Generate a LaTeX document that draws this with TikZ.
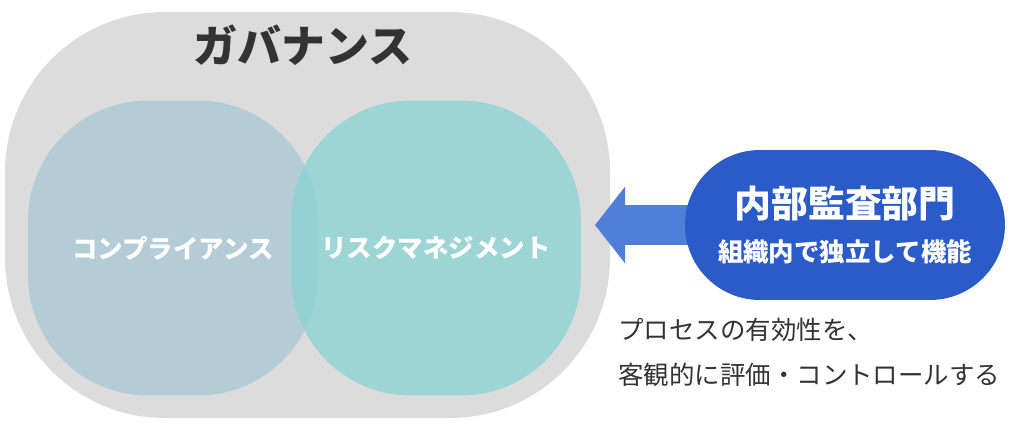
\documentclass[tikz,border=0pt]{standalone}
\usepackage{fontspec}
\setmainfont{Noto Sans CJK JP}
\usetikzlibrary{arrows.meta,positioning}
\definecolor{govgray}{HTML}{DCDCDC}
\definecolor{compblue}{HTML}{A9C9D4}
\definecolor{riskteal}{HTML}{8ED3D3}
\definecolor{arrowblue}{HTML}{4F7FD6}
\definecolor{auditblue}{HTML}{2A5BC9}
\definecolor{textgray}{HTML}{333333}
\tikzset{
  venn/.style={minimum width=5.8cm, minimum height=5.9cm, rounded corners=2.4cm, fill opacity=0.8, text opacity=1, text=white, font=\bfseries\fontsize{14.5}{17}\selectfont},
  note/.style={anchor=west, text=textgray, font=\fontsize{14.5}{17}\selectfont}
}
\begin{document}
\begin{tikzpicture}[x=0.02cm,y=-0.02cm]
\useasboundingbox (0,0) rectangle (1017,424);
\fill[govgray,rounded corners=3.2cm] (5,12) rectangle (610,418);
\node (gov) at (303,45) [text=textgray, font=\bfseries\fontsize{25}{28}\selectfont]{ガバナンス};

\node (comp) at (173,248) [venn, fill=compblue]{コンプライアンス};
\node (risk) at (436,248) [venn, fill=riskteal]{リスクマネジメント};

\coordinate (tip) at (595,225);
\draw[arrowblue, line width=0.8cm, -{Triangle[length=0.6cm,width=1.5cm]}] (720,225)--(tip);

\node (audit) at (845,225) [fill=auditblue, minimum width=6.4cm, minimum height=3cm, rounded corners=1.5cm, text=white, align=center]
  {{\bfseries\fontsize{21}{24}\selectfont 内部監査部門}\\[10pt]{\bfseries\fontsize{14.5}{17}\selectfont 組織内で独立して機能}};

\node (n1) at (612,330) [note]{プロセスの有効性を、};
\node (n2) at (612,375) [note]{客観的に評価・コントロールする};
\end{tikzpicture}
\end{document}
